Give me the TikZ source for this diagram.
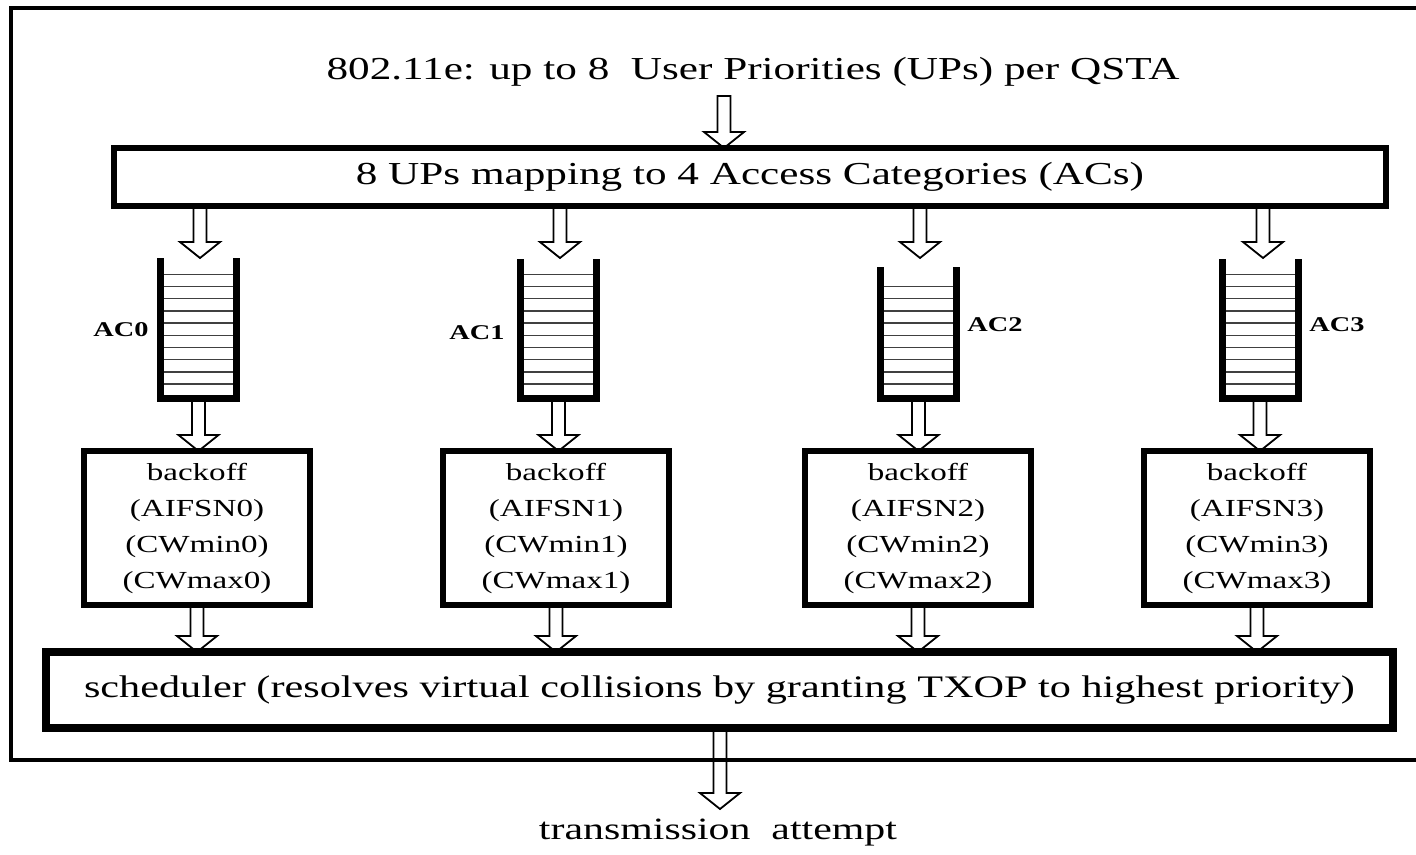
\documentclass[tikz,border=0pt]{standalone}
\usepackage{fontspec}
\setmainfont{Liberation Serif}[FakeStretch=1.35]
\usetikzlibrary{calc}
\tikzset{
  box/.style={draw, line width=6.5pt, inner sep=0pt, outer sep=0pt},
  bobox/.style={box, line width=6pt, minimum width=226pt, minimum height=154pt,
    align=center, font=\fontsize{24.5}{36}\selectfont},
  qbody/.style={inner sep=0pt, outer sep=0pt, minimum width=76pt},
  qwall/.style={line width=7pt, line join=miter},
  rung/.style={line width=1.4pt, black!75},
  aclabel/.style={font=\bfseries\fontsize{21}{24}\selectfont},
  hollow/.style={line width=1.8pt, line join=miter, to path={
    let \p1=(\tikztostart), \p2=(\tikztotarget) in
    ({\x1-6.5pt},\y1) -- ({\x1-6.5pt},{\y2+16pt}) -- ({\x1-20pt},{\y2+16pt})
    -- (\x1,\y2) -- ({\x1+20pt},{\y2+16pt}) -- ({\x1+6.5pt},{\y2+16pt})
    -- ({\x1+6.5pt},\y1) -- cycle}},
}
\begin{document}
\begin{tikzpicture}[x=1pt, y=-1pt]
\useasboundingbox (0,0) rectangle (1416,854);
\clip (0,0) rectangle (1416,854);

% station frame
\draw[line width=4.5pt] (11,8) rectangle (1440,760);

% header and mapping stage
\node[font=\fontsize{32}{36}\selectfont] (title) at (753,72)
  {802.11e: up to 8\ \ User Priorities (UPs) per QSTA};
\node[box, minimum width=1272pt, minimum height=58pt,
  font=\fontsize{32}{36}\selectfont] (map) at (750,177)
  {8 UPs mapping to 4 Access Categories (ACs)};
\coordinate (titlefoot) at (724,96);
\draw[hollow] (titlefoot) to (titlefoot |- map.north);

% access category queues
\foreach \q/\cx/\top/\nr in {q0/198.5/258/10, q1/558.5/259/10, q2/918.5/267/9, q3/1260/259/10}{
  \node[qbody, minimum height={398.5-\top}, anchor=north] (\q) at (\cx,\top) {};
  \draw[qwall] (\q.north west) -- (\q.south west) -- (\q.south east) -- (\q.north east);
  \foreach \k in {1,...,\nr}
    \draw[rung] ($(\q.south west)+(3.5,{-14.5-12.2*(\k-1)})$)
             -- ($(\q.south east)+(-3.5,{-14.5-12.2*(\k-1)})$);
}
\node[aclabel] (l0) at (121,330) {AC0};
\node[aclabel] (l1) at (477,333) {AC1};
\node[aclabel] (l2) at (995,325) {AC2};
\node[aclabel] (l3) at (1337,325) {AC3};

% backoff entities
\node[bobox] (b0) at (197,528) {backoff\\(AIFSN0)\\(CWmin0)\\(CWmax0)};
\node[bobox] (b1) at (556,528) {backoff\\(AIFSN1)\\(CWmin1)\\(CWmax1)};
\node[bobox] (b2) at (918,528) {backoff\\(AIFSN2)\\(CWmin2)\\(CWmax2)};
\node[bobox] (b3) at (1257,528) {backoff\\(AIFSN3)\\(CWmin3)\\(CWmax3)};

% virtual collision scheduler
\node[box, line width=7.5pt, minimum width=1347pt, minimum height=76pt,
  font=\fontsize{31.3}{34}\selectfont] (sched) at (719.5,690)
  {scheduler (resolves virtual collisions by granting TXOP to highest priority)};

% flows between stages
\foreach \i/\ax in {0/200,1/560,2/920,3/1263}{
  \coordinate (m\i) at (\ax,206);
  \draw[hollow] (m\i) to (m\i |- q0.north);
  \draw[hollow] (q\i.south) to (q\i.south |- b\i.north);
  \draw[hollow] (b\i.south) to (b\i.south |- sched.north);
}

% output
\node[font=\fontsize{31}{34}\selectfont] (tx) at (718,833) {transmission\ \ attempt};
\coordinate (txtip) at (720,809);
\draw[hollow] (txtip |- sched.south) to (txtip);
\end{tikzpicture}
\end{document}
